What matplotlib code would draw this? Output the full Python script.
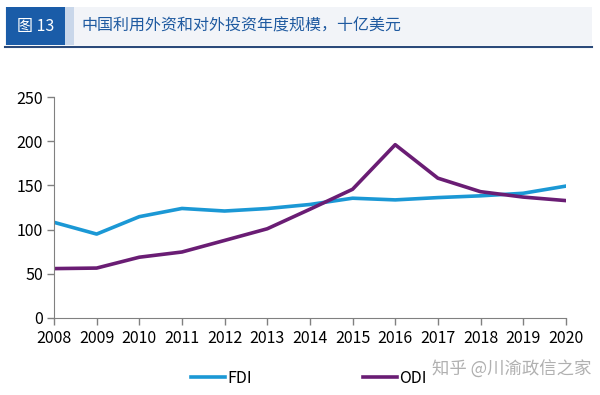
#!/usr/bin/env python3

import matplotlib
matplotlib.use('Agg')
import matplotlib.pyplot as plt
from matplotlib.patches import Rectangle
from matplotlib.lines import Line2D

plt.rcParams['font.family'] = ['Noto Sans CJK SC', 'DejaVu Sans']

years = [2008, 2009, 2010, 2011, 2012, 2013, 2014, 2015, 2016, 2017, 2018, 2019, 2020]
fdi = [108.3, 95.0, 114.7, 124.0, 121.1, 123.9, 128.5, 135.6, 133.7, 136.3, 138.3, 141.2, 149.3]
odi = [55.9, 56.5, 68.8, 74.7, 87.8, 101.0, 123.1, 145.7, 196.2, 158.3, 143.0, 136.9, 132.9]
y_ticks = [0, 50, 100, 150, 200, 250]

fdi_color = '#1b98d5'
odi_color = '#6a1d74'
header_blue = '#1a5ca8'

fig = plt.figure(figsize=(6, 3.95), dpi=100)

# header band
fig.patches.append(Rectangle((0.008, 0.885), 0.978, 0.098, transform=fig.transFigure,
                             facecolor='#f2f4f8', edgecolor='none'))
fig.patches.append(Rectangle((0.010, 0.885), 0.098, 0.098, transform=fig.transFigure,
                             facecolor=header_blue, edgecolor='none'))
fig.patches.append(Rectangle((0.108, 0.885), 0.016, 0.098, transform=fig.transFigure,
                             facecolor='#c9d7ea', edgecolor='none'))
fig.lines.append(Line2D([0.008, 0.986], [0.882, 0.882], transform=fig.transFigure,
                        color='#2b4a7a', linewidth=1.5))
fig.text(0.059, 0.934, '图 13', color='white', fontsize=11.5, ha='center', va='center')
fig.text(0.135, 0.934, '中国利用外资和对外投资年度规模，十亿美元', color='#1f5aa0',
         fontsize=11.5, ha='left', va='center')

ax = fig.add_axes([0.09, 0.195, 0.853, 0.559])
ax.plot(years, fdi, color=fdi_color, linewidth=2.6, label='FDI')
ax.plot(years, odi, color=odi_color, linewidth=2.6, label='ODI')

ax.set_xlim(2008, 2020)
ax.set_ylim(0, 250)
ax.set_xticks(years)
ax.set_yticks(y_ticks)
ax.tick_params(axis='both', labelsize=11.5, color='#808080', length=5, width=1)
ax.tick_params(axis='x', pad=4)
ax.tick_params(axis='y', pad=3)
for side in ['top', 'right']:
    ax.spines[side].set_visible(False)
for side in ['left', 'bottom']:
    ax.spines[side].set_color('#808080')

# legend at bottom
handles = [Line2D([], [], color=fdi_color, linewidth=2.6),
           Line2D([], [], color=odi_color, linewidth=2.6)]
fig.legend(handles, ['FDI', 'ODI'], loc='center', bbox_to_anchor=(0.515, 0.043),
           ncol=2, frameon=False, fontsize=11.5, handlelength=2.1, handletextpad=0.15,
           columnspacing=7.0)

fig.text(0.985, 0.065, '知乎 @川渝政信之家', color='#b0b0b0', fontsize=12.5,
         ha='right', va='center')

fig.savefig('out.png', dpi=100)
